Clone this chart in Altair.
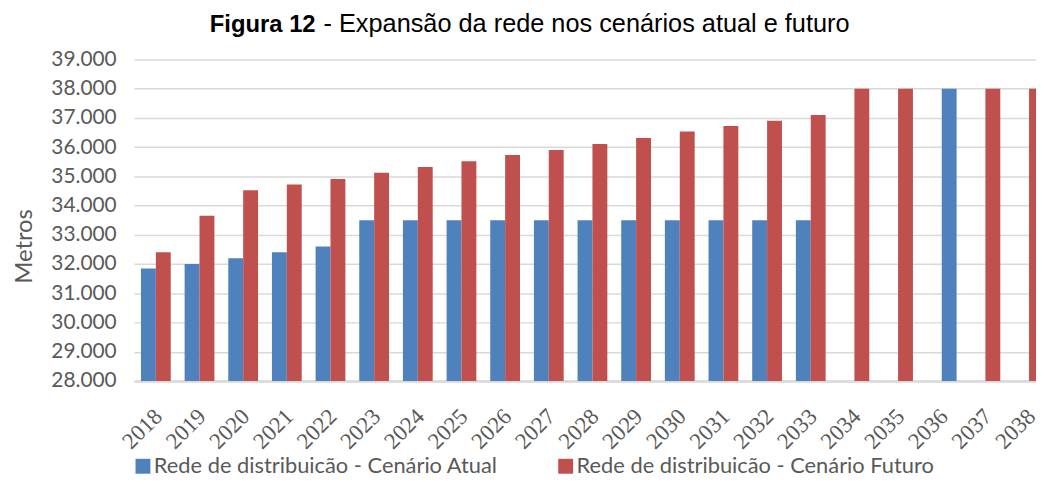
import altair as alt
import pandas as pd

# ---- data ----
years_main = ["2018", "2019", "2020", "2021", "2022", "2023", "2024", "2025",
              "2026", "2027", "2028", "2029", "2030", "2031", "2032", "2033"]
atual_main = [31850, 32000, 32200, 32400, 32600, 33500, 33500, 33500,
              33500, 33500, 33500, 33500, 33500, 33500, 33500, 33500]
futuro_main = [32400, 33650, 34520, 34720, 34910, 35120, 35320, 35520,
               35730, 35900, 36110, 36310, 36530, 36720, 36900, 37100]

years_tail = ["2034", "2035", "2036", "2037", "2038"]
tail_series = ["futuro", "futuro", "atual", "futuro", "futuro"]
tail_values = [38000, 38000, 38000, 38000, 38000]

all_years = years_main + years_tail
y_ticks = [28000, 29000, 30000, 31000, 32000, 33000, 34000, 35000,
           36000, 37000, 38000, 39000]

s_atual = "Rede de distribuicão - Cenário Atual"
s_futuro = "Rede de distribuicão - Cenário Futuro"
series_names = {"atual": s_atual, "futuro": s_futuro}
colors = ["#4F81BD", "#C0504D"]

title_bold = "Figura 12"
title_rest = "- Expansão da rede nos cenários atual e futuro"

# ---- tables ----
df_main = pd.DataFrame(
    [{"year": y, "series": s_atual, "value": v} for y, v in zip(years_main, atual_main)]
    + [{"year": y, "series": s_futuro, "value": v} for y, v in zip(years_main, futuro_main)]
)
df_tail = pd.DataFrame(
    [{"year": y, "series": series_names[s], "value": v}
     for y, s, v in zip(years_tail, tail_series, tail_values)]
)

grey = "#595959"

x_enc = alt.X(
    "year:N",
    sort=all_years,
    scale=alt.Scale(domain=all_years, range=[0, 924], paddingInner=0.318, paddingOuter=0.159),
    axis=alt.Axis(
        title=None, labelAngle=-45, labelFont="Liberation Serif", labelFontSize=23,
        labelColor=grey, ticks=False, domain=True, domainColor="#D9D9D9",
        domainWidth=2.5, grid=False, labelPadding=24, labelOffset=-5,
    ),
)
y_enc = alt.Y(
    "value:Q",
    scale=alt.Scale(domain=[28000, 39000], zero=False, nice=False),
    axis=alt.Axis(
        values=y_ticks,
        labelExpr="replace(format(datum.value, ',d'), ',', '.')",
        title="Metros", titleFont="Lato", titleFontSize=24, titleFontWeight="normal",
        titleColor=grey, titlePadding=14, titleY=188,
        labelFont="Lato", labelFontSize=21, labelColor=grey, labelPadding=18,
        ticks=False, domain=False, grid=True, gridColor="#D9D9D9", gridWidth=1.5,
    ),
)
color_enc = alt.Color(
    "series:N",
    scale=alt.Scale(domain=[s_atual, s_futuro], range=colors),
    legend=alt.Legend(
        orient="none", legendX=-2, legendY=399, direction="horizontal", title=None,
        symbolType="square", symbolSize=225, symbolStrokeWidth=0,
        labelFont="Lato", labelFontSize=22, labelColor=grey, labelLimit=600,
        columnPadding=57, labelOffset=0, padding=0,
    ),
)

bars_main = alt.Chart(df_main).mark_bar().encode(
    x=x_enc,
    xOffset=alt.XOffset("series:N", sort=[s_atual, s_futuro],
                        scale=alt.Scale(domain=[s_atual, s_futuro])),
    y=y_enc,
    y2=alt.Y2(datum=28000),
    color=color_enc,
)

bars_tail = alt.Chart(df_tail).mark_bar(width=15, xOffset=7.5).encode(
    x=x_enc,
    y=y_enc,
    y2=alt.Y2(datum=28000),
    color=color_enc,
)

t1 = alt.Chart(pd.DataFrame({"t": [title_bold]})).mark_text(
    align="right", baseline="alphabetic", font="Liberation Sans", fontSize=24,
    fontWeight="bold", color="black",
).encode(text="t:N", x=alt.value(183), y=alt.value(-28))

t2 = alt.Chart(pd.DataFrame({"t": [title_rest]})).mark_text(
    align="left", baseline="alphabetic", font="Liberation Sans", fontSize=25.5,
    color="black",
).encode(text="t:N", x=alt.value(191), y=alt.value(-28))

chart = alt.layer(bars_main, bars_tail, t1, t2).properties(
    width=909,
    height=324,
    autosize=alt.AutoSizeParams(type="none"),
    padding={"left": 127, "top": 50, "right": 0, "bottom": 96},
).configure_view(stroke=None)

chart.save("out.html", embed_options={"renderer": "svg", "actions": False})
